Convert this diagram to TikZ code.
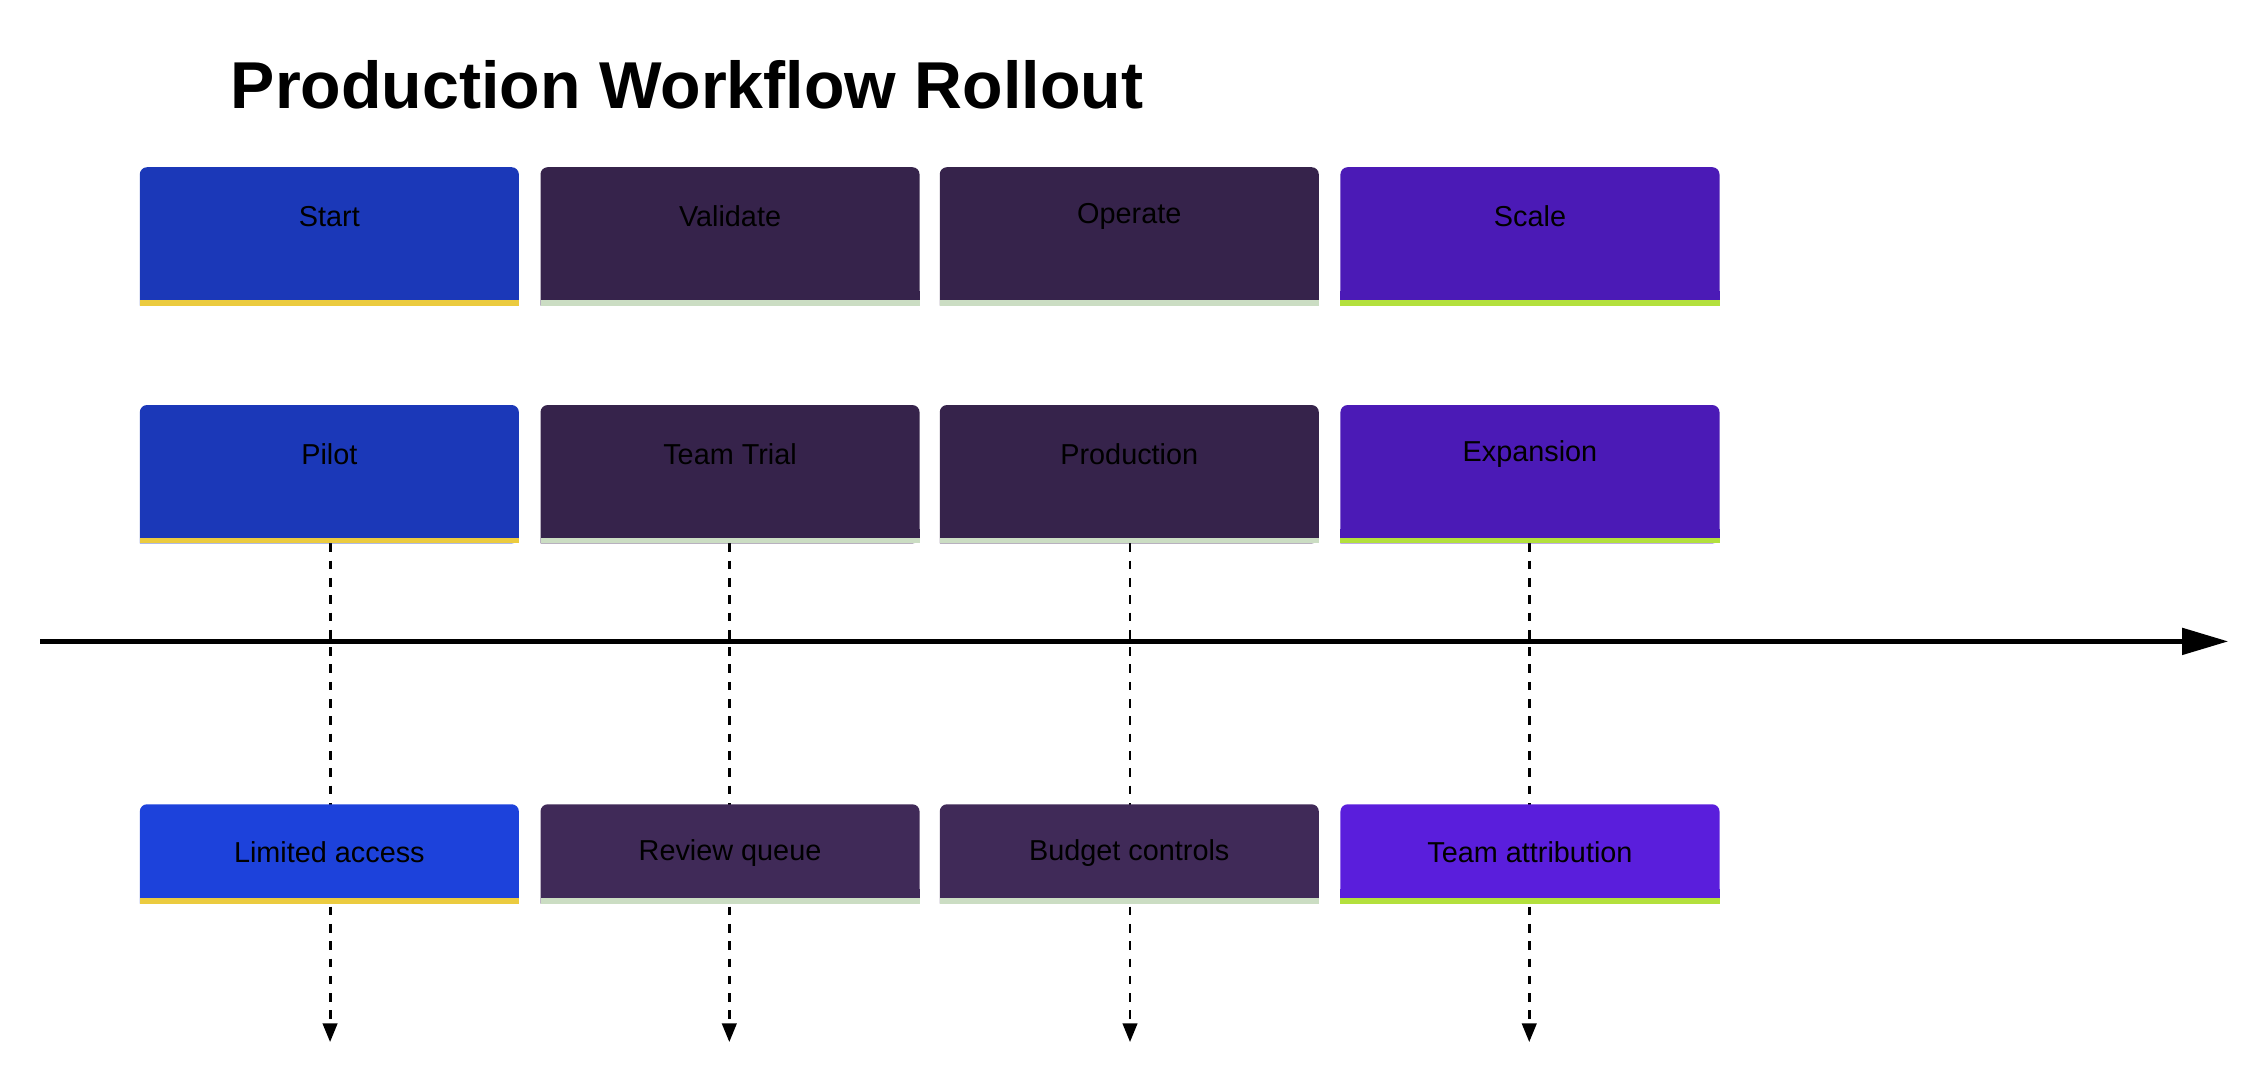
\documentclass[tikz,border=0pt]{standalone}
\usepackage{fontspec}
\setmainfont{Liberation Sans}
\usetikzlibrary{arrows.meta}
\definecolor{cA}{HTML}{1B38B8}\definecolor{cB}{HTML}{36234B}\definecolor{cC}{HTML}{4B1AB6}
\definecolor{dA}{HTML}{1D42DB}\definecolor{dB}{HTML}{402A58}\definecolor{dC}{HTML}{5A1EDC}
\definecolor{sA}{HTML}{EBCB3F}\definecolor{sB}{HTML}{CBDDC3}\definecolor{sC}{HTML}{B3E03D}
\newcommand{\mybox}[7]{% name, x, ytop, h, fill, stripe, text
  \fill[#5,rounded corners=5pt] (#2,#3) -- (#2+263,#3) -- (#2+263,#3+#4) [sharp corners]-- (#2,#3+#4) [rounded corners=5pt] -- cycle;
  \fill[#5] (#2,#3+#4-10) rectangle (#2+263,#3+#4);
  \fill[#6] (#2,#3+#4-4) rectangle (#2+263,#3+#4);
  \node[lbl] (#1) at (#2+131.5,#3+#4/2) [minimum width=263pt,minimum height=#4pt] {};
  \node[lbl] at (#2+131.5,#3+34) {#7};
}
\begin{document}
\begin{tikzpicture}[x=1pt,y=-1pt,
  lbl/.style={inner sep=0pt,font=\fontsize{20}{24}\selectfont,text=black},
  dline/.style={black,line width=2pt,dash pattern=on 6pt off 6pt,-{Triangle[width=10pt,length=13pt]}}]
\useasboundingbox (0,0) rectangle (1568,748);
\node[anchor=base west,font=\fontsize{46}{50}\bfseries\selectfont,inner sep=0pt] (title) at (160,75) {Production Workflow Rollout};
\foreach \x/\n in {229/a,506/b,784/c,1061/d}{
  \coordinate (e\n) at (\x,723);
  \draw[dline] (\x,377) -- (e\n);
}
\mybox{p1}{97}{116}{96}{cA}{sA}{Start}
\mybox{p2}{375}{116}{96}{cB}{sB}{Validate}
\mybox{p3}{652}{116}{96}{cB}{sB}{Operate}
\mybox{p4}{930}{116}{96}{cC}{sC}{Scale}
\mybox{m1}{97}{281}{96}{cA}{sA}{Pilot}
\mybox{m2}{375}{281}{96}{cB}{sB}{Team Trial}
\mybox{m3}{652}{281}{96}{cB}{sB}{Production}
\mybox{m4}{930}{281}{96}{cC}{sC}{Expansion}
\mybox{b1}{97}{558}{69}{dA}{sA}{}
\mybox{b2}{375}{558}{69}{dB}{sB}{}
\mybox{b3}{652}{558}{69}{dB}{sB}{}
\mybox{b4}{930}{558}{69}{dC}{sC}{}
\node[lbl] at (b1.center) [yshift=1pt]{Limited access};
\node[lbl] at (b2.center) [yshift=1pt]{Review queue};
\node[lbl] at (b3.center) [yshift=1pt]{Budget controls};
\node[lbl] at (b4.center) [yshift=1pt]{Team attribution};
\coordinate (t0) at (28,445);\coordinate (t1) at (1546,445);
\draw[line width=3.5pt,-{Triangle[width=18pt,length=32pt]}] (t0) -- (t1);
\end{tikzpicture}
\end{document}
